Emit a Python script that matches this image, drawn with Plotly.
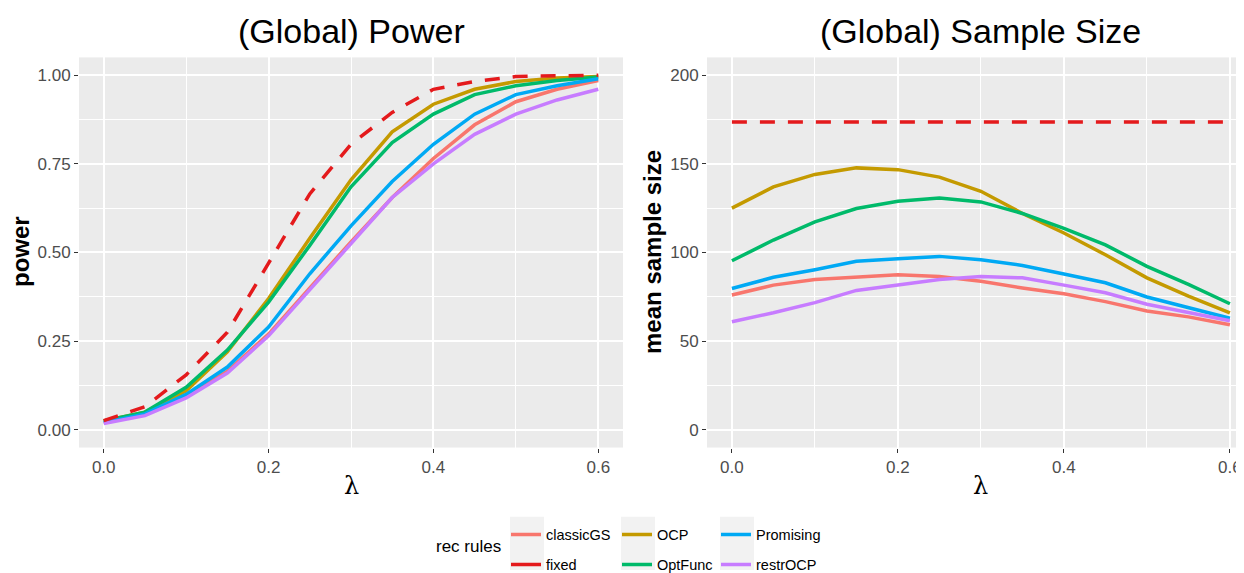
import plotly.graph_objects as go

lam = [0.0, 0.05, 0.1, 0.15, 0.2, 0.25, 0.3, 0.35, 0.4, 0.45, 0.5, 0.55, 0.6]

rules = ["classicGS", "fixed", "OCP", "OptFunc", "Promising", "restrOCP"]
colors = ["#F8766D", "#E41A1C", "#C49A00", "#00BA6A", "#00A9F4", "#C77CFF"]

power_classicGS = [0.02, 0.045, 0.095, 0.165, 0.27, 0.40, 0.53, 0.655, 0.765, 0.86, 0.925, 0.96, 0.985]
power_fixed     = [0.026, 0.065, 0.155, 0.275, 0.47, 0.665, 0.805, 0.895, 0.96, 0.982, 0.996, 0.998, 1.0]
power_OCP       = [0.025, 0.05, 0.11, 0.22, 0.37, 0.54, 0.705, 0.84, 0.918, 0.96, 0.982, 0.992, 0.996]
power_OptFunc   = [0.025, 0.05, 0.12, 0.225, 0.36, 0.52, 0.685, 0.81, 0.89, 0.945, 0.97, 0.985, 0.995]
power_Promising = [0.02, 0.045, 0.10, 0.177, 0.29, 0.44, 0.575, 0.70, 0.805, 0.89, 0.945, 0.97, 0.99]
power_restrOCP  = [0.018, 0.04, 0.09, 0.16, 0.265, 0.395, 0.525, 0.655, 0.75, 0.833, 0.89, 0.93, 0.96]

size_classicGS = [76, 81.6, 84.7, 86, 87.5, 86.4, 83.8, 80, 76.7, 72.3, 67, 63.7, 59.2]
size_fixed     = [173.5] * 13
size_OCP       = [125, 137, 144, 147.7, 146.7, 142.5, 134.5, 122, 111, 98.7, 85.7, 75.4, 66]
size_OptFunc   = [95.3, 107, 117.3, 124.8, 128.9, 130.7, 128.5, 122, 113.6, 104.3, 92.2, 82, 71.1]
size_Promising = [79.7, 86, 90.3, 95, 96.5, 97.8, 95.9, 92.7, 87.9, 82.9, 74.9, 68.9, 62.9]
size_restrOCP  = [60.9, 66, 71.7, 78.6, 81.6, 84.7, 86.4, 85.7, 81.6, 77.3, 70.8, 66.1, 61.5]

power = [power_classicGS, power_fixed, power_OCP, power_OptFunc, power_Promising, power_restrOCP]
size = [size_classicGS, size_fixed, size_OCP, size_OptFunc, size_Promising, size_restrOCP]

legend_of = ["legend", "legend", "legend2", "legend2", "legend3", "legend3"]

# the page adds an 8px body margin; positions below are given in window pixels
OFF = 8
FW, FH = 1244, 573


def px(xr):
    return (xr - OFF) / FW


def py(yr):
    return 1 - (yr - OFF) / FH


fig = go.Figure()
DASH = "15px,13px"
order = [0, 2, 3, 4, 5, 1]  # fixed drawn on top
for i in order:
    dash = DASH if rules[i] == "fixed" else "solid"
    fig.add_trace(go.Scatter(x=lam, y=power[i], mode="lines", name=rules[i],
                             line=dict(color=colors[i], width=3.5, dash=dash),
                             xaxis="x", yaxis="y", showlegend=False,
                             legendgroup=rules[i]))
for i in order:
    dash = DASH if rules[i] == "fixed" else "solid"
    fig.add_trace(go.Scatter(x=lam, y=size[i], mode="lines", name=rules[i],
                             line=dict(color=colors[i], width=3.5, dash=dash),
                             xaxis="x2", yaxis="y2", showlegend=False,
                             legendgroup=rules[i]))
# legend entries (short keys look solid, as in the reference)
for i, r in enumerate(rules):
    fig.add_trace(go.Scatter(x=[None], y=[None], mode="lines", name=r,
                             line=dict(color=colors[i], width=3.5),
                             xaxis="x", yaxis="y", legend=legend_of[i],
                             legendgroup=r, legendrank=i, showlegend=True))

y_dom = [py(453), py(58)]
tickfont = dict(family="Liberation Sans, Arial", size=17, color="#4D4D4D")
ax_common = dict(showgrid=True, gridcolor="white", gridwidth=1.6, zeroline=False,
                 ticks="outside", ticklen=4, tickwidth=1.2, tickcolor="#333333",
                 tickfont=tickfont, showline=False)
minor_common = dict(showgrid=True, gridcolor="white", gridwidth=0.7, ticklen=0)

fig.update_layout(
    width=FW, height=FH,
    margin=dict(l=0, r=0, t=0, b=0),
    paper_bgcolor="white", plot_bgcolor="#EBEBEB",
    xaxis=dict(domain=[px(79), px(623)], range=[-0.03, 0.63], tickvals=[0, 0.2, 0.4, 0.6],
               tickformat=".1f", anchor="y",
               minor=dict(tickvals=[0.1, 0.3, 0.5], **minor_common), **ax_common),
    yaxis=dict(domain=y_dom, range=[-0.05, 1.05], tickvals=[0, 0.25, 0.5, 0.75, 1.0],
               tickformat=".2f", anchor="x",
               minor=dict(tickvals=[0.125, 0.375, 0.625, 0.875], **minor_common), **ax_common),
    xaxis2=dict(domain=[px(707), px(1244)], range=[-0.03, 0.6 + 14 / 825], tickvals=[0, 0.2, 0.4, 0.6],
                tickformat=".1f", anchor="y2",
                minor=dict(tickvals=[0.1, 0.3, 0.5], **minor_common), **ax_common),
    yaxis2=dict(domain=y_dom, range=[-10, 210], tickvals=[0, 50, 100, 150, 200],
                anchor="x2",
                minor=dict(tickvals=[25, 75, 125, 175], **minor_common), **ax_common),
    font=dict(family="Liberation Sans, Arial", color="black"),
    showlegend=True,
)

leg_common = dict(orientation="v", xanchor="left", yanchor="top", bgcolor="rgba(0,0,0,0)",
                  font=dict(family="Liberation Sans, Arial", size=14.5, color="black"),
                  itemwidth=30, tracegroupgap=8, traceorder="grouped")
fig.update_layout(
    legend=dict(x=px(506), y=py(525), **leg_common),
    legend2=dict(x=px(617), y=py(525), **leg_common),
    legend3=dict(x=px(716), y=py(525), **leg_common),
)

# grey legend key backgrounds (ggplot style)
for x0 in (510, 621, 720):
    fig.add_shape(type="rect", xref="paper", yref="paper",
                  x0=px(x0), x1=px(x0 + 34), y0=py(577), y1=py(523),
                  fillcolor="#F2F2F2", line=dict(width=0), layer="below")

annos = [
    dict(text="(Global) Power", x=px(351), y=py(31), font=dict(size=34)),
    dict(text="(Global) Sample Size", x=px(980), y=py(31), font=dict(size=34)),
    dict(text="<b>power</b>", x=px(21), y=py(255), textangle=-90, font=dict(size=24)),
    dict(text="<b>mean sample size</b>", x=px(653), y=py(255), textangle=-90, font=dict(size=24)),
    dict(text="λ", x=px(351), y=py(492), font=dict(size=24, family="DejaVu Serif")),
    dict(text="λ", x=px(980), y=py(492), font=dict(size=24, family="DejaVu Serif")),
    dict(text="rec rules", x=px(468), y=py(553), font=dict(size=17)),
]
for a in annos:
    f = dict(family="Liberation Sans, Arial", color="black")
    f.update(a.pop("font"))
    fig.add_annotation(xref="paper", yref="paper", showarrow=False,
                       xanchor="center", yanchor="middle", font=f, **a)

fig.write_html("out.html")
